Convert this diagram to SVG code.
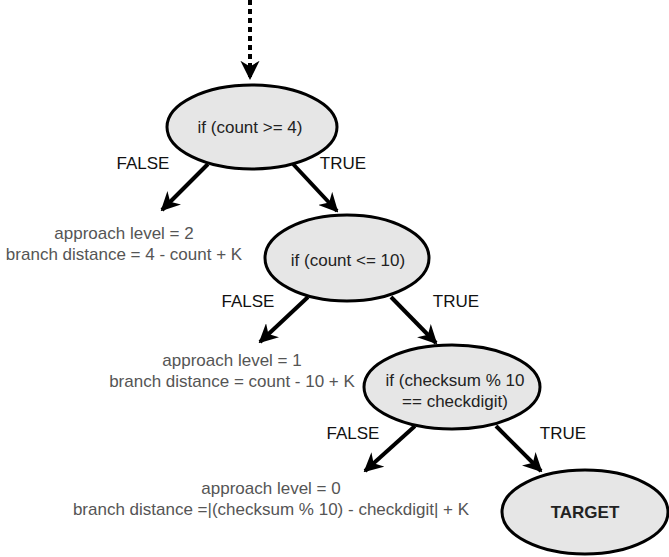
<svg xmlns="http://www.w3.org/2000/svg" width="669" height="557" viewBox="0 0 669 557">
<defs>
<marker id="ah" viewBox="0 0 10 10" refX="9" refY="5" markerWidth="4.8" markerHeight="4.8" markerUnits="strokeWidth" orient="auto">
<path d="M0,0 L10,5 L0,10 L3,5 z" fill="#000"/>
</marker>
<style>
.node ellipse{fill:#e6e6e6;stroke:#000;stroke-width:3}
.nt{font-family:"Liberation Sans",Arial,sans-serif;font-size:17px;fill:#222;text-anchor:middle}
.lb{font-family:"Liberation Sans",Arial,sans-serif;font-size:17px;fill:#111;text-anchor:middle}
.gt{font-family:"Liberation Sans",Arial,sans-serif;font-size:17px;fill:#555;text-anchor:middle}
.edge{stroke:#000;stroke-width:4;fill:none;marker-end:url(#ah)}
</style>
</defs>
<rect width="669" height="557" fill="#fff"/>
<g id="connectors">
<line x1="250" y1="0" x2="250" y2="78" stroke="#000" stroke-width="4" stroke-dasharray="5,4" marker-end="url(#ah)"/>
<line class="edge" x1="208" y1="164" x2="162" y2="210"/>
<line class="edge" x1="293" y1="164" x2="337" y2="211"/>
<line class="edge" x1="308" y1="297" x2="260" y2="342"/>
<line class="edge" x1="391" y1="297" x2="436" y2="343"/>
<line class="edge" x1="415" y1="426" x2="365" y2="471"/>
<line class="edge" x1="496" y1="426" x2="541" y2="471"/>
</g>
<g id="n1" class="node">
<ellipse cx="252" cy="127" rx="85" ry="42"/>
<text class="nt" x="250" y="133">if (count &gt;= 4)</text>
</g>
<g id="n2" class="node">
<ellipse cx="347" cy="258" rx="82" ry="43"/>
<text class="nt" x="348" y="266">if (count &lt;= 10)</text>
</g>
<g id="n3" class="node">
<ellipse cx="452" cy="387" rx="88" ry="42"/>
<text class="nt" x="455" y="386">if (checksum % 10</text>
<text class="nt" x="455" y="407">== checkdigit)</text>
</g>
<g id="target" class="node">
<ellipse cx="585" cy="512" rx="83" ry="42"/>
<text class="nt" x="585" y="518" font-weight="bold">TARGET</text>
</g>
<g id="labels">
<text class="lb" x="143" y="169">FALSE</text>
<text class="lb" x="343" y="169">TRUE</text>
<text class="lb" x="248" y="307">FALSE</text>
<text class="lb" x="456" y="307">TRUE</text>
<text class="lb" x="353" y="439">FALSE</text>
<text class="lb" x="563" y="439">TRUE</text>
</g>
<g id="info1">
<text class="gt" x="124" y="239">approach level = 2</text>
<text class="gt" x="124" y="260">branch distance = 4 - count + K</text>
</g>
<g id="info2">
<text class="gt" x="232" y="366">approach level = 1</text>
<text class="gt" x="232" y="387">branch distance = count - 10 + K</text>
</g>
<g id="info3">
<text class="gt" x="271" y="494">approach level = 0</text>
<text class="gt" x="271" y="515">branch distance =|(checksum % 10) - checkdigit| + K</text>
</g>
</svg>
